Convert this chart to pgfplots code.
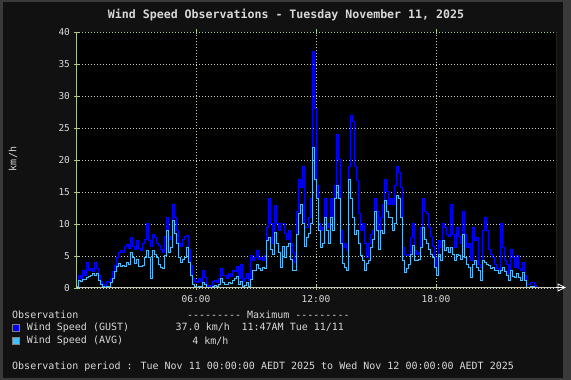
\documentclass[border=0pt]{standalone}
\usepackage{pgfplots}
\pgfplotsset{compat=1.18}
\usepackage{pgfplotstable}
\usepackage{fontspec}
\setmainfont{DejaVu Sans Mono}
\definecolor{bggray}{HTML}{3A3A3A}
\definecolor{bgdark}{HTML}{111111}
\definecolor{txt}{HTML}{D8D8D8}
\definecolor{gust}{HTML}{0000FF}
\definecolor{avgc}{HTML}{40C0FF}
\definecolor{axgreen}{HTML}{A8C888}
\definecolor{gridc}{HTML}{C8D0B8}
\definecolor{olivec}{HTML}{A0A048}
\definecolor{botc}{HTML}{C0C8B0}
\newcommand{\dashes}{-{}-{}-{}-{}-{}-{}-{}-{}-}

\pgfplotstableread{
h g a
0.0 0.5 0.3
0.1 2.0 1.2
0.2 1.5 1.0
0.3 2.8 1.4
0.4 2.0 1.3
0.5 4.0 1.6
0.6 2.7 1.8
0.7 3.0 2.0
0.8 2.5 2.2
0.9 4.0 2.0
1.0 3.0 2.3
1.1 2.0 1.2
1.2 1.0 0.5
1.3 0.5 0.2
1.4 0.3 0.0
1.5 1.0 0.3
1.6 0.8 0.2
1.7 1.5 0.8
1.8 2.5 1.5
1.9 3.5 2.5
2.0 4.8 3.3
2.1 5.5 3.8
2.2 5.8 3.3
2.3 5.6 3.5
2.4 6.5 3.4
2.5 6.8 4.0
2.6 6.2 3.6
2.7 7.9 5.6
2.8 6.5 4.8
2.9 6.0 3.8
3.0 7.4 4.5
3.1 6.2 3.3
3.2 5.8 3.3
3.3 6.9 3.5
3.4 7.5 4.8
3.5 10.0 5.8
3.6 7.4 4.8
3.7 6.5 1.5
3.8 8.4 5.8
3.9 7.9 5.2
4.0 7.0 4.8
4.1 6.6 3.6
4.2 6.0 3.2
4.3 5.6 3.0
4.4 8.0 5.0
4.5 11.0 9.0
4.6 7.5 5.5
4.7 8.0 6.4
4.8 13.0 10.5
4.9 11.0 8.5
5.0 9.0 7.0
5.1 7.0 4.8
5.2 6.5 4.0
5.3 7.5 4.5
5.4 8.0 4.8
5.5 8.2 6.4
5.6 6.0 4.0
5.7 3.5 2.0
5.8 1.5 0.6
5.9 1.0 0.2
6.0 0.8 0.0
6.1 1.5 0.3
6.2 1.0 0.2
6.3 2.7 0.8
6.4 1.7 0.5
6.5 0.4 0.1
6.6 0.3 0.0
6.7 0.4 0.1
6.8 1.0 0.3
6.9 1.2 0.4
7.0 0.8 0.3
7.1 1.5 0.5
7.2 3.0 1.5
7.3 2.0 0.8
7.4 2.0 0.6
7.5 1.5 0.5
7.6 2.2 0.8
7.7 1.8 0.7
7.8 2.8 1.2
7.9 2.5 1.5
8.0 3.3 1.8
8.1 1.5 0.5
8.2 3.7 1.0
8.3 1.0 0.3
8.4 1.5 0.4
8.5 2.2 0.9
8.6 1.2 0.3
8.7 5.0 1.4
8.8 4.3 2.7
8.9 4.8 2.7
9.0 5.8 3.7
9.1 4.5 3.0
9.2 4.8 2.7
9.3 4.3 3.2
9.4 5.0 3.0
9.5 9.5 7.4
9.6 14.0 7.9
9.7 10.0 6.0
9.8 7.0 5.3
9.9 12.9 8.7
10.0 10.0 7.0
10.1 9.0 5.5
10.2 10.0 3.2
10.3 10.0 6.5
10.4 8.5 4.8
10.5 7.5 6.5
10.6 9.0 7.0
10.7 6.9 4.5
10.8 5.5 2.7
10.9 4.0 2.7
11.0 12.0 8.4
11.1 17.0 11.6
11.2 15.7 13.0
11.3 19.0 10.0
11.4 9.5 6.5
11.5 9.5 7.9
11.6 11.0 8.5
11.7 14.0 10.0
11.8 37.0 22.0
11.9 28.0 17.0
12.0 16.0 14.0
12.1 10.0 9.0
12.2 9.0 6.4
12.3 9.5 7.0
12.4 14.0 11.0
12.5 10.0 9.0
12.6 9.5 7.0
12.7 14.0 11.0
12.8 11.0 9.0
12.9 16.0 14.0
13.0 24.0 16.0
13.1 20.0 14.0
13.2 9.0 7.0
13.3 6.4 3.8
13.4 7.0 3.2
13.5 5.8 2.7
13.6 19.0 17.0
13.7 27.0 14.0
13.8 26.0 11.0
13.9 19.0 8.4
14.0 16.8 9.0
14.1 11.6 7.0
14.2 9.0 5.0
14.3 10.0 4.3
14.4 7.0 2.7
14.5 4.8 3.8
14.6 7.0 4.3
14.7 8.4 6.4
14.8 9.0 7.5
14.9 14.0 12.0
15.0 12.0 9.0
15.1 9.0 6.0
15.2 11.0 9.0
15.3 13.0 8.5
15.4 17.0 13.6
15.5 15.0 12.0
15.6 13.0 11.0
15.7 14.0 11.0
15.8 13.0 9.0
15.9 16.0 10.0
16.0 19.0 14.4
16.1 18.0 14.0
16.2 15.7 11.0
16.3 6.4 4.3
16.4 5.3 2.4
16.5 5.0 3.0
16.6 5.3 3.7
16.7 7.9 5.3
16.8 10.0 6.6
16.9 5.8 4.3
17.0 5.3 4.3
17.1 5.6 4.5
17.2 9.5 6.4
17.3 14.0 9.5
17.4 12.0 7.5
17.5 11.6 7.0
17.6 9.5 6.0
17.7 8.0 5.3
17.8 6.5 4.8
17.9 4.8 3.2
18.0 2.7 1.9
18.1 7.4 5.3
18.2 6.4 4.3
18.3 10.0 7.4
18.4 9.5 5.8
18.5 8.4 6.4
18.6 8.0 5.5
18.7 13.0 6.4
18.8 8.4 5.3
18.9 6.4 4.3
19.0 9.5 5.3
19.1 8.0 5.0
19.2 6.9 4.5
19.3 12.0 8.4
19.4 8.4 4.8
19.5 6.4 3.7
19.6 6.9 3.2
19.7 4.3 1.7
19.8 9.5 3.7
19.9 7.4 4.3
20.0 7.9 3.2
20.1 3.7 2.7
20.2 3.2 1.1
20.3 9.0 4.3
20.4 11.0 4.0
20.5 9.0 3.7
20.6 6.0 3.5
20.7 5.3 3.0
20.8 4.8 3.2
20.9 3.7 2.8
21.0 3.0 2.7
21.1 2.4 2.2
21.2 10.0 2.7
21.3 6.4 3.2
21.4 4.3 2.5
21.5 3.7 2.0
21.6 2.2 1.1
21.7 6.0 2.7
21.8 4.8 1.8
21.9 3.2 1.7
22.0 5.0 2.2
22.1 3.0 1.7
22.2 2.7 1.1
22.3 4.0 2.4
22.4 1.9 1.1
22.5 0.6 0.1
22.6 0.6 0.1
22.7 0.9 0.2
22.8 0.9 0.2
22.9 0.4 0.1
23.0 0.0 0.0
23.5 0.0 0.0
24.0 0.0 0.0
}\winddata

\begin{document}
\begin{tikzpicture}[x=1pt,y=1pt]
\useasboundingbox (0,0) rectangle (571,380);
\fill[bggray] (0,0) rectangle (571,380);
\fill[bgdark] (2.5,2) rectangle (563,378);
\begin{axis}[
  at={(76pt,92pt)}, anchor=south west,
  scale only axis, width=480pt, height=256pt,
  xmin=0, xmax=24, ymin=0, ymax=40,
  axis background/.style={fill=black},
  axis line style={draw=none},
  xtick={6,12,18}, xticklabels={06:00,12:00,18:00},
  ytick={0,5,...,40},
  ytick pos=left, xtick pos=both,
  tick align=center,
  major tick length=5pt,
  tick style={axgreen, line width=0.8pt},
  grid=major,
  major grid style={gridc, dash pattern=on 1pt off 2pt, line width=0.8pt},
  ticklabel style={txt, font=\fontsize{9.5}{10}\selectfont},
  /pgf/number format/assume math mode=true,
  xticklabel style={yshift=-1pt},
  clip=true,
]
\addplot[const plot, gust, line width=1pt] table[x=h, y=g]{\winddata};
\addplot[const plot, avgc, line width=1pt] table[x=h, y=a]{\winddata};
\draw[gridc!80!green, dash pattern=on 1pt off 2pt, line width=0.8pt] (axis cs:0,40) -- (axis cs:24,40);
\draw[axgreen, line width=1pt] (axis cs:0,0) -- (axis cs:0,40);
\draw[olivec, line width=1pt] (axis cs:24,0) -- (axis cs:24,40);
\draw[botc, line width=1pt] (axis cs:0,0) -- (axis cs:24,0);
\end{axis}
% arrow at end of x axis
\draw[white, line width=0.8pt] (558,96) -- (565,92.5) -- (558,89) -- cycle;
\draw[white, line width=0.8pt] (556,92.5) -- (565,92.5);
% title
\node[txt, font=\fontsize{11.6}{12}\selectfont\bfseries] at (286,365) {Wind Speed Observations - Tuesday November 11, 2025};
% y label
\node[txt, rotate=90, font=\fontsize{10}{11}\selectfont] at (13,221) {km/h};
% legend
\begin{scope}[every node/.style={txt, font=\fontsize{10}{11}\selectfont, inner sep=0pt}]
\node[anchor=west] at (12,65.3) {Observation};
\node[anchor=west] at (186.8,65.3) {\dashes{} Maximum \dashes};
\filldraw[fill=gust, draw=gray, line width=0.8pt] (12.5,48.7) rectangle (19.5,55.7);
\node[anchor=west] at (26.6,52.7) {Wind Speed (GUST)};
\node[anchor=west] at (175.5,52.7) {37.0 km/h};
\node[anchor=west] at (241.4,52.7) {11:47AM Tue 11/11};
\filldraw[fill=avgc, draw=gray, line width=0.8pt] (12.5,35.8) rectangle (19.5,42.8);
\node[anchor=west] at (26.6,39.3) {Wind Speed (AVG)};
\node[anchor=east] at (228.7,39.3) {4 km/h};
\node[anchor=west] at (12,13.3) {Observation period : Tue Nov 11 00:00:00 AEDT 2025 to Wed Nov 12 00:00:00 AEDT 2025};
\end{scope}
\end{tikzpicture}
\end{document}
